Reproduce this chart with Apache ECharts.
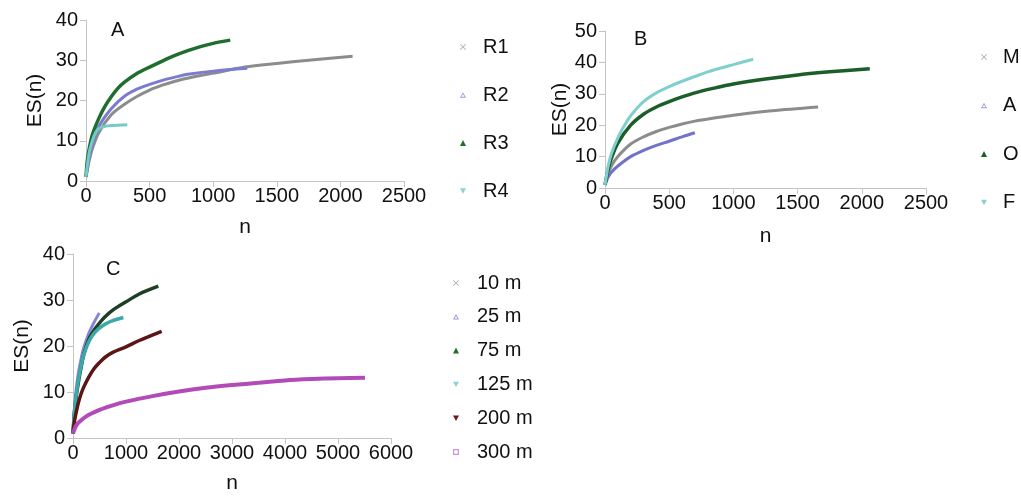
<!DOCTYPE html>
<html><head><meta charset="utf-8">
<script src="https://cdn.jsdelivr.net/npm/echarts@6/dist/echarts.min.js"></script>
<style>html,body{margin:0;padding:0;background:#fff}#c{width:1021px;height:498px}</style>
</head><body><div id="c"></div>
<script>
// ---- Panel A ----
const namesA = ['R1','R2','R3','R4'];
const R1 = [[0,1],[25,5],[50,8],[100,12],[200,16.5],[300,19],[400,21],[500,22.6],[600,23.8],[700,24.8],[850,25.9],[1000,26.8],[1250,28.3],[1500,29.2],[1750,30],[2096,31]];
const R2 = [[0,1],[25,6],[50,9],[100,13.5],[200,18],[300,21],[400,22.8],[500,24],[600,25],[700,25.8],[800,26.5],[1000,27.3],[1268,28]];
const R3 = [[0,1],[10,5],[25,8],[50,11.5],[100,15.5],[150,18.6],[200,21],[250,23],[300,24.5],[400,26.7],[500,28.3],[600,29.8],[700,31.2],[800,32.4],[900,33.4],[1000,34.2],[1134,35]];
const R4 = [[0,1],[25,7],[50,10],[75,12],[100,13],[150,13.6],[200,13.8],[325,14]];
// ---- Panel B ----
const namesB = ['M','A','O','F'];
const M = [[0,1],[25,4.5],[50,7],[100,10],[200,14],[300,16.3],[400,18],[500,19.3],[600,20.4],[700,21.3],[850,22.3],[1000,23.2],[1300,24.6],[1660,25.8]];
const Aser = [[0,1],[25,3.5],[50,5],[100,7],[200,10],[300,12],[400,13.6],[500,14.9],[600,16.3],[700,17.6]];
const O = [[0,1],[25,6],[50,9.5],[100,14.3],[200,20],[300,23.5],[400,25.8],[500,27.5],[600,29],[700,30.3],[850,31.8],[1000,33.1],[1250,34.7],[1500,36],[1750,37],[2062,38]];
const F = [[0,1],[25,7],[50,11],[100,16],[150,19.8],[200,23],[300,27.5],[400,30.3],[500,32.3],[600,34],[700,35.5],[800,37],[900,38.2],[1000,39.3],[1154,41]];
// ---- Panel C ----
const namesC = ['10 m','25 m','75 m','125 m','200 m','300 m'];
const m10 = [[0,1],[10,3],[25,5.5],[50,8.5]];
const m25 = [[0,1],[25,6],[50,9.5],[100,14],[150,17],[200,19.5],[300,22.8],[400,25.2],[496,27.2]];
const m75 = [[0,1],[25,5],[50,8],[100,12],[150,15.2],[200,18],[300,21.5],[400,23.5],[500,25],[600,26.3],[750,27.8],[1000,29.6],[1250,31.3],[1610,33]];
const m125 = [[0,1],[25,5.5],[50,8.5],[100,12.5],[150,15.5],[200,18],[300,21],[400,22.8],[500,23.9],[600,24.7],[750,25.5],[950,26.2]];
const m200 = [[0,1],[25,3.5],[50,5],[100,7.6],[150,9.5],[200,11],[300,13.3],[400,15.1],[500,16.4],[600,17.5],[750,18.6],[1000,19.8],[1250,21.2],[1673,23.2]];
const m300 = [[0,1],[50,2.5],[100,3.3],[250,4.7],[500,6.1],[750,7.1],[1000,7.9],[1500,9.1],[2000,10.1],[2500,10.9],[3000,11.5],[3500,12],[4000,12.5],[4500,12.8],[5000,13],[5509,13.1]];

const FONT = 'Liberation Sans, Arial, sans-serif';
const X_ICON = 'path://M0,1L1,0L5,4L9,0L10,1L6,5L10,9L9,10L5,6L1,10L0,9L4,5Z';
const SQ_ICON = 'path://M0,0L10,0L10,10L0,10ZM2,2L2,8L8,8L8,2Z';
const TRI_OPEN = 'path://M5,0L10,9L0,9ZM5,3L2.5,7.5L7.5,7.5Z';
const TRI_DOWN_OPEN = 'path://M0,0L10,0L5,9ZM2.5,1.5L7.5,1.5L5,6Z';
const TRI_DOWN = 'path://M0,0L10,0L5,9Z';

function xAxis(idx, max, interval, gap){
  return {gridIndex: idx, type:'value', min:0, max:max, interval:interval,
    name:'n', nameLocation:'middle', nameGap:gap, nameTextStyle:{fontSize:21, color:'#111', fontFamily:FONT},
    axisLine:{show:true, lineStyle:{color:'#c4c4c4', width:1}}, axisTick:{show:true, length:6, lineStyle:{color:'#c4c4c4'}},
    axisLabel:{fontSize:20, color:'#111', margin:5, fontFamily:FONT, formatter:(v)=>String(v)}, splitLine:{show:false}};
}
function yAxis(idx, max, interval, gap){
  return {gridIndex: idx, type:'value', min:0, max:max, interval:interval,
    name:'ES(n)', nameLocation:'middle', nameGap:gap, nameRotate:90, nameTextStyle:{fontSize:21, color:'#111', fontFamily:FONT},
    axisLine:{show:true, lineStyle:{color:'#c4c4c4', width:1}}, axisTick:{show:true, length:6, lineStyle:{color:'#c4c4c4'}},
    axisLabel:{fontSize:20, color:'#111', margin:8, fontFamily:FONT, formatter:(v)=>String(v)}, splitLine:{show:false}};
}
function ser(name, data, idx, color, w){
  return {name:name, type:'line', data:data, xAxisIndex:idx, yAxisIndex:idx, smooth:0.3, showSymbol:false,
    symbol:'circle', color:color, lineStyle:{color:color, width:w||3}, emphasis:{disabled:true}, animation:false};
}
function legend(names, icons, colors, left, top, gap, pad){
  return {orient:'vertical', left:left, top:top, itemGap:gap, itemWidth:6, itemHeight:6,
    textStyle:{fontSize:20, color:'#111', fontFamily:FONT, lineHeight:20, padding:[0,0,0,pad]},
    selectedMode:false, padding:0,
    data: names.map((n,i)=>({name:n, icon:icons[i], itemStyle:{color:colors[i]}}))};
}

const cA = ['#8c8c8c','#7b7bd0','#1f6e30','#74c9c9'];
const cB = ['#8c8c8c','#7272c8','#1b5e2a','#7fcfcf'];
const cC = ['#9a9a9a','#8585d8','#1d3f24','#3ca8a8','#5c1515','#b24ab8'];
const lA = ['#aaaaaa','#9a9ad8','#1f6e30','#8fd0d0'];
const lB = ['#aaaaaa','#9a9ad8','#1b5e2a','#8fd0d0'];
const lC = ['#aaaaaa','#9a9ad8','#1f6e30','#8fd0d0','#6b1a1a','#d090d8'];

const option = {
  backgroundColor:'#fff',
  animation:false,
  grid:[
    {left:86, top:20, width:318, height:161},
    {left:605, top:31, width:321, height:157},
    {left:73, top:254, width:318, height:184}
  ],
  xAxis:[xAxis(0,2500,500,36), xAxis(1,2500,500,38), xAxis(2,6000,1000,35)],
  yAxis:[yAxis(0,40,10,40), yAxis(1,50,10,31), yAxis(2,40,10,40)],
  legend:[
    legend(namesA, [X_ICON,TRI_OPEN,'triangle',TRI_DOWN_OPEN], lA, 460, 37, 28, 12),
    legend(namesB, [X_ICON,TRI_OPEN,'triangle',TRI_DOWN_OPEN], lB, 981, 47, 28.5, 11),
    legend(namesC, [X_ICON,TRI_OPEN,'triangle',TRI_DOWN_OPEN,TRI_DOWN,SQ_ICON], lC, 453, 273, 13.8, 13)
  ],
  graphic:[
    {type:'text', left:111, top:20, style:{text:'A', fontSize:20, fill:'#111', fontFamily:FONT}},
    {type:'text', left:634, top:29, style:{text:'B', fontSize:20, fill:'#111', fontFamily:FONT}},
    {type:'text', left:106, top:259, style:{text:'C', fontSize:20, fill:'#111', fontFamily:FONT}}
  ],
  series:[
    ser('R1', R1, 0, cA[0]), ser('R2', R2, 0, cA[1]), ser('R3', R3, 0, cA[2], 3.5), ser('R4', R4, 0, cA[3]),
    ser('M', M, 1, cB[0]), ser('A', Aser, 1, cB[1]), ser('O', O, 1, cB[2], 3.5), ser('F', F, 1, cB[3]),
    ser('10 m', m10, 2, cC[0]), ser('25 m', m25, 2, cC[1]), ser('75 m', m75, 2, cC[2], 3.5), ser('125 m', m125, 2, cC[3], 3.5),
    ser('200 m', m200, 2, cC[4], 3.5), ser('300 m', m300, 2, cC[5], 4)
  ]
};
const chart = echarts.init(document.getElementById('c'), null, {renderer:'canvas'});
chart.setOption(option);
</script></body></html>
